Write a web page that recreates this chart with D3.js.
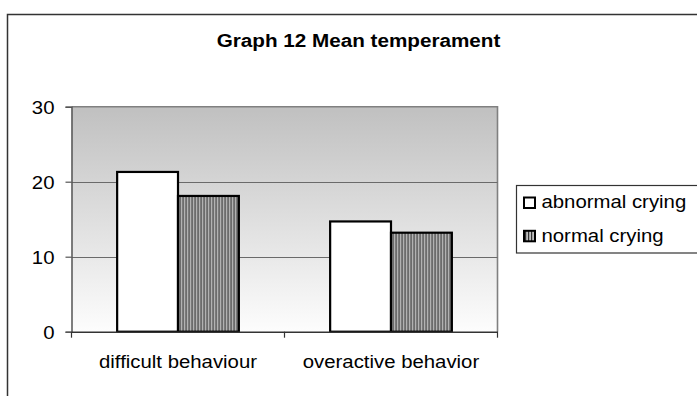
<!DOCTYPE html>
<html>
<head>
<meta charset="utf-8">
<script src="https://cdn.jsdelivr.net/npm/d3@7"></script>
<style>
  html, body { margin: 0; padding: 0; background: #ffffff; }
  svg { display: block; }
  text { font-family: "Liberation Sans", Arial, sans-serif; fill: #000; }
</style>
</head>
<body>
<svg id="chart" width="697" height="396"></svg>
<script>
// Chart data
const categories = ["difficult behaviour", "overactive behavior"];
const seriesNames = ["abnormal crying", "normal crying"];
const abnormalCrying = [21.3, 14.7];
const normalCrying = [18.1, 13.2];
const yTicks = [0, 10, 20, 30];
const title = "Graph 12 Mean temperament";

const seriesValues = [abnormalCrying, normalCrying];
const SX = 1.1; // horizontal stretch applied to all text

const svg = d3.select("#chart");
const defs = svg.append("defs");

// plot-area gradient: grey at top fading to white at the base
const grad = defs.append("linearGradient")
  .attr("id", "plotBg").attr("x1", 0).attr("y1", 0).attr("x2", 0).attr("y2", 1);
grad.append("stop").attr("offset", "0%").attr("stop-color", "#c0c0c0");
grad.append("stop").attr("offset", "100%").attr("stop-color", "#fdfdfd");

// vertical stripe fill for the second series
const pat = defs.append("pattern")
  .attr("id", "vstripe").attr("patternUnits", "userSpaceOnUse")
  .attr("width", 3).attr("height", 10);
pat.append("rect").attr("width", 3).attr("height", 10).attr("fill", "#c0c0c0");
pat.append("rect").attr("x", 0).attr("width", 1.2).attr("height", 10).attr("fill", "#333");

const fills = ["#ffffff", "url(#vstripe)"];

// outer chart frame (runs off the right and bottom edges)
svg.append("rect")
  .attr("x", 7.5).attr("y", 14.5).attr("width", 720).attr("height", 420)
  .attr("fill", "none").attr("stroke", "#333").attr("stroke-width", 1.5);

const plot = { left: 71.5, right: 497.5, top: 106.7, bottom: 331.7 };

const x = d3.scaleBand().domain(categories).range([plot.left, plot.right]).padding(0);
const xInner = d3.scaleBand().domain(seriesNames).range([0, x.bandwidth()])
  .paddingInner(0).paddingOuter(0.75);
const y = d3.scaleLinear().domain([0, 30]).range([plot.bottom, plot.top]);

// plot background with grey border on top and right
svg.append("rect")
  .attr("x", plot.left).attr("y", plot.top)
  .attr("width", plot.right - plot.left).attr("height", plot.bottom - plot.top)
  .attr("fill", "url(#plotBg)");
svg.append("path")
  .attr("d", `M${plot.left},${plot.top}H${plot.right}V${plot.bottom}`)
  .attr("fill", "none").attr("stroke", "#808080").attr("stroke-width", 1.6);

// gridlines
svg.append("g").selectAll("line")
  .data(yTicks.filter(d => d > 0 && d < 30))
  .join("line")
  .attr("x1", plot.left).attr("x2", plot.right)
  .attr("y1", d => Math.round(y(d)) + 0.5).attr("y2", d => Math.round(y(d)) + 0.5)
  .attr("stroke", "#6a6a6a").attr("stroke-width", 1.2);

// bars
const groups = svg.append("g").selectAll("g")
  .data(categories)
  .join("g")
  .attr("transform", d => `translate(${x(d)},0)`);

groups.selectAll("rect")
  .data((c, i) => seriesNames.map((s, j) => ({ s, j, v: seriesValues[j][i] })))
  .join("rect")
  .attr("x", d => xInner(d.s))
  .attr("y", d => y(d.v))
  .attr("width", xInner.bandwidth())
  .attr("height", d => y(0) - y(d.v))
  .attr("fill", d => fills[d.j])
  .attr("stroke", "#000").attr("stroke-width", 2.2);

// y axis
const yAxis = svg.append("g")
  .attr("transform", `translate(${plot.left},0)`)
  .call(d3.axisLeft(y).tickValues(yTicks).tickSize(6).tickPadding(0).tickFormat(d3.format("d")));
yAxis.select(".domain").attr("stroke", "#555").attr("stroke-width", 1.5);
yAxis.selectAll(".tick line").attr("stroke", "#555").attr("stroke-width", 1.2);
yAxis.selectAll(".tick text").remove();
yAxis.selectAll(".tick").append("text")
  .attr("text-anchor", "end")
  .attr("transform", `translate(-17,6.5) scale(${SX},1)`)
  .style("font-size", "18.5px")
  .text(d => d);

// x axis
const xAxis = svg.append("g")
  .attr("transform", `translate(0,${plot.bottom})`)
  .call(d3.axisBottom(x).tickSize(0).tickPadding(0));
xAxis.select(".domain").attr("stroke", "#333").attr("stroke-width", 1.5);
xAxis.selectAll(".tick line").remove();
xAxis.selectAll(".tick text").remove();
xAxis.selectAll(".tick").append("text")
  .attr("text-anchor", "middle")
  .attr("transform", `translate(0,36.6) scale(${SX},1)`)
  .style("font-size", "18.5px")
  .text(d => d);
// category separators
const sepX = categories.map(c => x(c)).concat([x(categories[categories.length - 1]) + x.bandwidth()]);
xAxis.append("g").selectAll("line")
  .data(sepX)
  .join("line")
  .attr("x1", d => d).attr("x2", d => d)
  .attr("y1", 0).attr("y2", 6)
  .attr("stroke", "#333").attr("stroke-width", 1.2);

// title
svg.append("text")
  .attr("text-anchor", "middle")
  .attr("transform", `translate(358.5,46.7) scale(${SX},1)`)
  .style("font-size", "18.8px").style("font-weight", "bold")
  .text(title);

// legend
const legend = svg.append("g").attr("transform", "translate(516,185)");
legend.append("rect")
  .attr("x", 0.5).attr("y", 0.5).attr("width", 300).attr("height", 67.5)
  .attr("fill", "#fff").attr("stroke", "#333").attr("stroke-width", 1.2);
const items = legend.selectAll("g.item")
  .data(seriesNames)
  .join("g").attr("class", "item")
  .attr("transform", (d, i) => `translate(0,${i * 33.3})`);
items.append("rect")
  .attr("x", 8).attr("y", 12.5).attr("width", 11).attr("height", 10.5)
  .attr("fill", (d, i) => fills[i])
  .attr("stroke", "#000").attr("stroke-width", 2);
items.append("text")
  .attr("transform", `translate(25.5,23.2) scale(${SX},1)`)
  .style("font-size", "18.5px")
  .text(d => d);
</script>
</body>
</html>
